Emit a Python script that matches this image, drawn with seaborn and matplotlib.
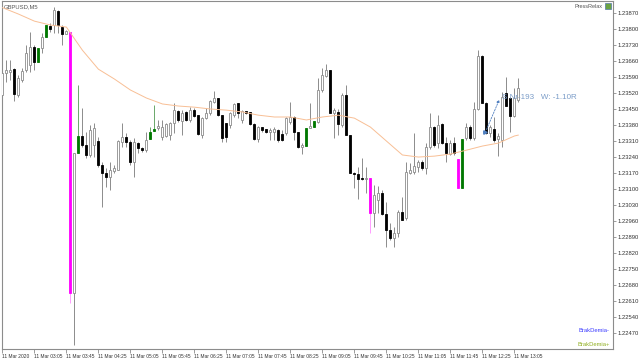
import numpy as np
import pandas as pd
import matplotlib.pyplot as plt
import seaborn as sns
from matplotlib.patches import Rectangle

"""GBPUSD M5 candles, 11 Mar 2020 02:25 - 13:10"""

opens = [
    1.23510, 1.23606, 1.23610, 1.23623, 1.23510, 1.23575, 1.23619, 1.23641, 1.23720, 1.23654,
    1.23715, 1.23763, 1.23811, 1.23816, 1.23877, 1.23807, 1.23776, 1.23785, 1.22645, 1.23256,
    1.23331, 1.23291, 1.23248, 1.23291, 1.23309, 1.23204, 1.23169, 1.23152, 1.23178, 1.23182,
    1.23304, 1.23326, 1.23304, 1.23217, 1.23300, 1.23278, 1.23269, 1.23318, 1.23353, 1.23366,
    1.23326, 1.23331, 1.23335, 1.23387, 1.23440, 1.23396, 1.23436, 1.23401, 1.23444, 1.23422,
    1.23335, 1.23409, 1.23431, 1.23479, 1.23497, 1.23422, 1.23387, 1.23379, 1.23422, 1.23475,
    1.23401, 1.23440, 1.23436, 1.23383, 1.23318, 1.23370, 1.23361, 1.23348, 1.23348, 1.23357,
    1.23339, 1.23344, 1.23392, 1.23414, 1.23348, 1.23283, 1.23287, 1.23366, 1.23370, 1.23392,
    1.23532, 1.23593, 1.23619, 1.23431, 1.23436, 1.23379, 1.23510, 1.23335, 1.23169, 1.23165,
    1.23147, 1.23143, 1.23147, 1.22994, 1.23051, 1.23082, 1.22990, 1.22920, 1.22885, 1.22907,
    1.22999, 1.22972, 1.23169, 1.23173, 1.23195, 1.23217, 1.23191, 1.23283, 1.23370, 1.23300,
    1.23383, 1.23300, 1.23252, 1.23300, 1.23230, 1.23103, 1.23322, 1.23370, 1.23322, 1.23449,
    1.23680, 1.23475, 1.23344, 1.23361, 1.23318, 1.23313, 1.23519, 1.23497, 1.23418, 1.23488,
]
highs = [
    1.23619, 1.23663, 1.23663, 1.23628, 1.23597, 1.23628, 1.23728, 1.23785, 1.23728, 1.23715,
    1.23781, 1.23816, 1.23824, 1.23894, 1.23881, 1.23816, 1.23794, 1.23785, 1.23256, 1.23554,
    1.23453, 1.23348, 1.23379, 1.23387, 1.23326, 1.23217, 1.23191, 1.23217, 1.23204, 1.23313,
    1.23387, 1.23344, 1.23313, 1.23322, 1.23304, 1.23283, 1.23348, 1.23370, 1.23466, 1.23401,
    1.23401, 1.23387, 1.23392, 1.23475, 1.23444, 1.23444, 1.23440, 1.23457, 1.23453, 1.23422,
    1.23414, 1.23453, 1.23488, 1.23527, 1.23497, 1.23422, 1.23387, 1.23436, 1.23475, 1.23475,
    1.23444, 1.23440, 1.23436, 1.23387, 1.23374, 1.23370, 1.23361, 1.23366, 1.23370, 1.23361,
    1.23357, 1.23414, 1.23479, 1.23418, 1.23348, 1.23300, 1.23366, 1.23475, 1.23396, 1.23584,
    1.23628, 1.23645, 1.23619, 1.23453, 1.23449, 1.23519, 1.23554, 1.23335, 1.23173, 1.23195,
    1.23235, 1.23195, 1.23147, 1.23117, 1.23112, 1.23095, 1.23042, 1.22950, 1.22933, 1.23007,
    1.23064, 1.23217, 1.23213, 1.23344, 1.23226, 1.23226, 1.23300, 1.23431, 1.23374, 1.23422,
    1.23387, 1.23326, 1.23313, 1.23326, 1.23230, 1.23318, 1.23387, 1.23379, 1.23479, 1.23706,
    1.23685, 1.23479, 1.23379, 1.23414, 1.23344, 1.23523, 1.23589, 1.23501, 1.23540, 1.23584,
]
lows = [
    1.23501, 1.23567, 1.23575, 1.23484, 1.23501, 1.23567, 1.23610, 1.23610, 1.23619, 1.23654,
    1.23693, 1.23763, 1.23785, 1.23781, 1.23781, 1.23728, 1.23776, 1.22601, 1.22417, 1.23256,
    1.23283, 1.23235, 1.23239, 1.23239, 1.23195, 1.23020, 1.23108, 1.23095, 1.23169, 1.23182,
    1.23283, 1.23283, 1.23204, 1.23152, 1.23256, 1.23261, 1.23261, 1.23318, 1.23353, 1.23357,
    1.23313, 1.23326, 1.23313, 1.23344, 1.23392, 1.23335, 1.23396, 1.23392, 1.23414, 1.23335,
    1.23322, 1.23405, 1.23422, 1.23475, 1.23418, 1.23304, 1.23304, 1.23366, 1.23414, 1.23409,
    1.23387, 1.23427, 1.23379, 1.23313, 1.23304, 1.23348, 1.23344, 1.23313, 1.23313, 1.23304,
    1.23309, 1.23335, 1.23383, 1.23313, 1.23278, 1.23252, 1.23287, 1.23366, 1.23370, 1.23387,
    1.23523, 1.23589, 1.23431, 1.23322, 1.23335, 1.23370, 1.23335, 1.23169, 1.23103, 1.23055,
    1.23138, 1.23082, 1.22907, 1.22933, 1.22994, 1.22985, 1.22846, 1.22876, 1.22846, 1.22889,
    1.22964, 1.22964, 1.23165, 1.23165, 1.23173, 1.23182, 1.23165, 1.23274, 1.23283, 1.23278,
    1.23296, 1.23217, 1.23248, 1.23248, 1.23103, 1.23103, 1.23313, 1.23313, 1.23313, 1.23444,
    1.23475, 1.23339, 1.23326, 1.23304, 1.23243, 1.23283, 1.23462, 1.23348, 1.23414, 1.23479,
]
closes = [
    1.23606, 1.23619, 1.23619, 1.23514, 1.23584, 1.23615, 1.23693, 1.23720, 1.23654, 1.23715,
    1.23763, 1.23816, 1.23798, 1.23881, 1.23816, 1.23776, 1.23790, 1.22645, 1.23256, 1.23331,
    1.23291, 1.23248, 1.23357, 1.23366, 1.23204, 1.23169, 1.23152, 1.23182, 1.23191, 1.23309,
    1.23326, 1.23304, 1.23217, 1.23304, 1.23278, 1.23269, 1.23313, 1.23348, 1.23361, 1.23374,
    1.23370, 1.23383, 1.23387, 1.23444, 1.23401, 1.23431, 1.23401, 1.23444, 1.23418, 1.23339,
    1.23409, 1.23431, 1.23484, 1.23497, 1.23422, 1.23322, 1.23326, 1.23431, 1.23471, 1.23431,
    1.23440, 1.23431, 1.23383, 1.23318, 1.23370, 1.23357, 1.23348, 1.23357, 1.23361, 1.23313,
    1.23313, 1.23409, 1.23414, 1.23348, 1.23283, 1.23291, 1.23366, 1.23374, 1.23396, 1.23532,
    1.23597, 1.23619, 1.23431, 1.23444, 1.23383, 1.23510, 1.23335, 1.23169, 1.23165, 1.23143,
    1.23143, 1.23147, 1.22994, 1.23073, 1.23082, 1.22990, 1.22920, 1.22885, 1.22907, 1.22999,
    1.22964, 1.23173, 1.23182, 1.23200, 1.23217, 1.23191, 1.23283, 1.23370, 1.23291, 1.23379,
    1.23300, 1.23256, 1.23300, 1.23256, 1.23103, 1.23318, 1.23370, 1.23322, 1.23449, 1.23680,
    1.23475, 1.23344, 1.23370, 1.23313, 1.23331, 1.23501, 1.23462, 1.23418, 1.23497, 1.23540,
]

# bars painted by the BrakDemia indicator
green_bars = [9, 11, 19, 37, 38, 76, 78, 115]
magenta_bars = [17, 92, 114]

# moving average read every 4 bars
ma_bars = list(range(0, 129, 4)) + [129]
ma_values = [1.23892, 1.23864, 1.23833, 1.23816, 1.23807, 1.23706, 1.23623, 1.23580, 1.23532,
             1.23497, 1.23471, 1.23462, 1.23457, 1.23449, 1.23444, 1.23436, 1.23422, 1.23414,
             1.23414, 1.23401, 1.23414, 1.23422, 1.23409, 1.23370, 1.23309, 1.23248, 1.23239,
             1.23243, 1.23252, 1.23269, 1.23287, 1.23300, 1.23331, 1.23335]

# trade arrow
trade_bars = [120.75, 124.5]
trade_prices = [1.23348, 1.23501]

x_tick_bars = list(range(0, 129, 8))
x_tick_labels = ['11 Mar 2020', '11 Mar 03:05', '11 Mar 03:45', '11 Mar 04:25', '11 Mar 05:05',
                 '11 Mar 05:45', '11 Mar 06:25', '11 Mar 07:05', '11 Mar 07:45', '11 Mar 08:25',
                 '11 Mar 09:05', '11 Mar 09:45', '11 Mar 10:25', '11 Mar 11:05', '11 Mar 11:45',
                 '11 Mar 12:25', '11 Mar 13:05']
y_ticks = [1.22470 + 0.0007 * k for k in range(21)]

assert len(opens) == len(highs) == len(lows) == len(closes) == 130

df = pd.DataFrame({'open': opens, 'high': highs, 'low': lows, 'close': closes})
df['bar'] = np.arange(len(df))
df['kind'] = np.where(df['close'] >= df['open'], 'up', 'down')
df.loc[green_bars, 'kind'] = 'green'
df.loc[magenta_bars, 'kind'] = 'magenta'

sns.set_style('white')
plt.rcParams['font.family'] = ['Liberation Sans Narrow', 'Liberation Sans', 'DejaVu Sans']

fig = plt.figure(figsize=(6.4, 3.6), dpi=100)
ax = fig.add_axes([2 / 640, 11 / 360, 611 / 640, 348 / 360])

styles = {
    'up': ('white', '#8c8c8c', '#8c8c8c'),
    'down': ('black', 'black', '#8c8c8c'),
    'green': ('#007800', '#007800', '#6aa86a'),
    'magenta': ('#ff00ff', '#ff00ff', '#ff9cff'),
}

for kind, (fill, edge, wick) in styles.items():
    d = df[df['kind'] == kind]
    ax.vlines(d['bar'], d['low'], d['high'], colors=wick, lw=0.7, zorder=2)
    body_lo = np.minimum(d['open'], d['close'])
    body_h = np.maximum((d['open'] - d['close']).abs(), 0.00002)
    ax.bar(d['bar'], body_h, bottom=body_lo, width=0.5, color=fill,
           edgecolor=edge, linewidth=0.6, zorder=3)

sns.lineplot(x=ma_bars, y=ma_values, ax=ax, color='#f8bf95', lw=0.7, zorder=4)

# trade arrow + label
ax.annotate('', xy=(trade_bars[1], trade_prices[1]), xytext=(trade_bars[0], trade_prices[0]),
            arrowprops=dict(arrowstyle='-|>', color='#4f7fc0', lw=0.6, ls=(0, (2, 1.5)),
                            mutation_scale=4), zorder=5)
ax.plot(trade_bars[0], trade_prices[0], marker='>', ms=2.5, color='#4f7fc0', zorder=5)
ax.text(trade_bars[1] + 0.3, trade_prices[1] - 0.00002, 'S Nr-193   W: -1.10R',
        fontsize=5.8, family=['Liberation Sans', 'DejaVu Sans'], color='#7a9cc8',
        va='center', ha='left', zorder=6)

ax.set_xlim(-0.1, 152.65)
ax.set_ylim(1.22400, 1.23921)

ax.set_xticks(x_tick_bars)
ax.set_xticklabels(x_tick_labels)
plt.setp(ax.get_xticklabels(), ha='left')
ax.set_yticks(y_ticks)
ax.set_yticklabels([f'{v:.5f}' for v in y_ticks])
ax.yaxis.tick_right()
ax.tick_params(axis='x', bottom=True, length=3, width=0.6, color='#8c8c8c', pad=0.8,
               labelsize=3.5, labelcolor='#333333')
ax.tick_params(axis='y', right=True, left=False, length=2.5, width=0.6, color='#8c8c8c',
               pad=1, labelsize=4.2, labelcolor='#333333')
ax.set_xlabel('')
ax.set_ylabel('')
for s in ax.spines.values():
    s.set_visible(True)
    s.set_color('#8c8c8c')
    s.set_linewidth(0.8)

ax.text(0.003, 0.992, 'GBPUSD,M5', transform=ax.transAxes, fontsize=4.2,
        color='#555555', va='top', ha='left')
ax.text(0.983, 0.992, 'PressRelax', transform=ax.transAxes, fontsize=4.0,
        color='#555555', va='top', ha='right')
fig.add_artist(Rectangle((605 / 640, 351 / 360), 6 / 640, 6 / 360, transform=fig.transFigure,
                         facecolor='#6ba342', edgecolor='#5577aa', lw=0.5))
ax.text(0.995, 0.045, 'BrakDemia-', transform=ax.transAxes, fontsize=4.2,
        color='#3a3aff', va='bottom', ha='right')
ax.text(0.995, 0.006, 'BrakDemia+', transform=ax.transAxes, fontsize=4.2,
        color='#8fae1e', va='bottom', ha='right')

fig.savefig('out.png', dpi=100)
